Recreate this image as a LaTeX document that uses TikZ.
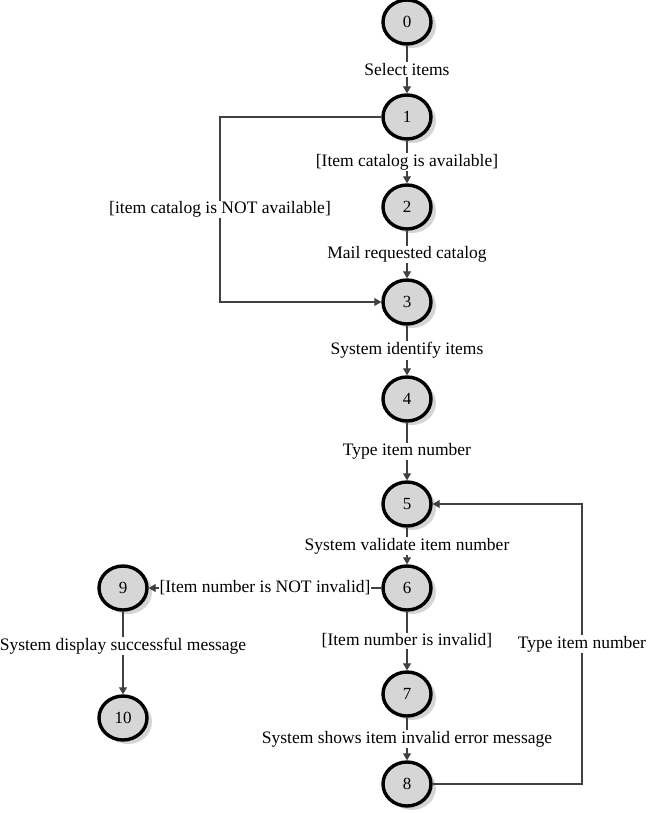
\documentclass[tikz,border=0pt]{standalone}
\usepackage{fontspec}
\setmainfont{Liberation Serif}
\usetikzlibrary{shapes.geometric,arrows.meta,shadows}

\tikzset{
  state/.style={ellipse, draw=black, line width=3.4pt, fill=gray!32,
    minimum width=48pt, minimum height=44pt, inner sep=0pt,
    font=\fontsize{17}{20}\selectfont,
    drop shadow={shadow xshift=5pt, shadow yshift=-4pt, fill=gray!55, opacity=0.6}},
  edge/.style={draw=black!75, line width=1.1pt,
    -{Triangle[length=7pt,width=8pt]}},
  lbl/.style={fill=white, inner sep=1pt, text=black,
    font=\fontsize{17.5}{20}\selectfont}
}

\begin{document}
\begin{tikzpicture}[x=1pt,y=-1pt]
\useasboundingbox (0,0) rectangle (648,813);

% states of the ordering flow
\node[state] (n0) at (407,22) {0};
\node[state] (n1) at (407,117) {1};
\node[state] (n2) at (407,207) {2};
\node[state] (n3) at (407,302) {3};
\node[state] (n4) at (407,399) {4};
\node[state] (n5) at (407,504) {5};
\node[state] (n6) at (407,588) {6};
\node[state] (n7) at (407,694) {7};
\node[state] (n8) at (407,784) {8};
\node[state] (n9) at (123,588) {9};
\node[state] (n10) at (123,718) {10};

% bend points of the two detours
\coordinate (c1) at (220,117);
\coordinate (c2) at (220,302);
\coordinate (c3) at (582,784);
\coordinate (c4) at (582,504);

% main column
\draw[edge] (n0) -- node[lbl]{Select items} (n1);
\draw[edge] (n1) -- node[lbl]{[Item catalog is available]} (n2);
\draw[edge] (n2) -- node[lbl]{Mail requested catalog} (n3);
\draw[edge] (n3) -- node[lbl]{System identify items} (n4);
\draw[edge] (n4) -- node[lbl]{Type item number} (n5);
\draw[edge] (n5) -- node[lbl]{System validate item number} (n6);
\draw[edge] (n6) -- node[lbl]{[Item number is invalid]} (n7);
\draw[edge] (n7) -- node[lbl]{System shows item invalid error message} (n8);

% catalog not available: skip straight to 3
\draw[edge] (n1.west) -- (c1) -- node[lbl]{[item catalog is NOT available]} (c2) -- (n3.west);

% retry loop from 8 back to 5
\draw[edge] (n8.east) -- (c3) -- node[lbl]{Type item number} (c4) -- (n5.east);

% valid item branch
\draw[edge] (n6) -- node[lbl]{[Item number is NOT invalid]} (n9);
\draw[edge] (n9) -- node[lbl, pos=0.42]{System display successful message} (n10);
\end{tikzpicture}
\end{document}
